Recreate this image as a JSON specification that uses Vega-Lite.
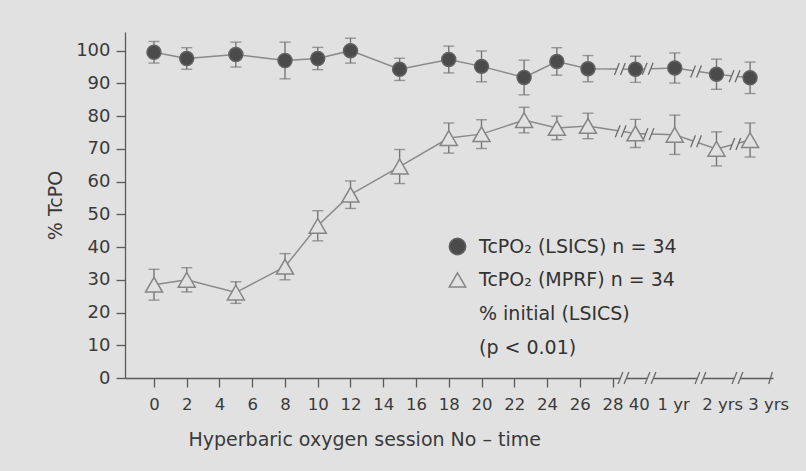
{
  "$schema": "https://vega.github.io/schema/vega-lite/v6.json",
  "width": 648,
  "height": 346,
  "autosize": {"type": "none"},
  "padding": {"left": 125, "top": 32, "right": 33, "bottom": 93},
  "background": "#e1e1e1",
  "config": {
    "view": {"stroke": null},
    "font": "DejaVu Sans",
    "axis": {
      "domainColor": "#5a5a5a",
      "tickColor": "#5a5a5a",
      "domainWidth": 1.3,
      "tickWidth": 1.3,
      "labelColor": "#3a3a3a",
      "titleColor": "#3a3a3a",
      "labelFont": "DejaVu Sans",
      "titleFont": "DejaVu Sans",
      "titleFontSize": 19,
      "titleFontWeight": "normal",
      "grid": false
    }
  },
  "datasets": {
    "series": [
      {"series": "LSICS", "session": "0", "x": 0, "v": 99.5, "e": 3.3},
      {"series": "LSICS", "session": "2", "x": 2, "v": 97.6, "e": 3.3},
      {"series": "LSICS", "session": "5", "x": 5, "v": 98.8, "e": 3.8},
      {"series": "LSICS", "session": "8", "x": 8, "v": 97.0, "e": 5.6},
      {"series": "LSICS", "session": "10", "x": 10, "v": 97.6, "e": 3.4},
      {"series": "LSICS", "session": "12", "x": 12, "v": 100.0, "e": 3.8},
      {"series": "LSICS", "session": "15", "x": 15, "v": 94.3, "e": 3.4},
      {"series": "LSICS", "session": "18", "x": 18, "v": 97.3, "e": 4.1},
      {"series": "LSICS", "session": "20", "x": 20, "v": 95.2, "e": 4.7},
      {"series": "LSICS", "session": "23", "x": 22.6, "v": 91.8, "e": 5.3},
      {"series": "LSICS", "session": "25", "x": 24.6, "v": 96.7, "e": 4.2},
      {"series": "LSICS", "session": "27", "x": 26.5, "v": 94.5, "e": 4.0},
      {"series": "LSICS", "session": "40", "x": 29.4, "v": 94.3, "e": 4.0},
      {"series": "LSICS", "session": "1 yr", "x": 31.8, "v": 94.7, "e": 4.6},
      {"series": "LSICS", "session": "2 yrs", "x": 34.35, "v": 92.8, "e": 4.6},
      {"series": "LSICS", "session": "3 yrs", "x": 36.4, "v": 91.7, "e": 4.8},
      {"series": "MPRF", "session": "0", "x": 0, "v": 28.5, "e": 4.7},
      {"series": "MPRF", "session": "2", "x": 2, "v": 30.0, "e": 3.7},
      {"series": "MPRF", "session": "5", "x": 5, "v": 26.1, "e": 3.3},
      {"series": "MPRF", "session": "8", "x": 8, "v": 34.0, "e": 4.0},
      {"series": "MPRF", "session": "10", "x": 10, "v": 46.5, "e": 4.6},
      {"series": "MPRF", "session": "12", "x": 12, "v": 56.0, "e": 4.2},
      {"series": "MPRF", "session": "15", "x": 15, "v": 64.6, "e": 5.2},
      {"series": "MPRF", "session": "18", "x": 18, "v": 73.3, "e": 4.6},
      {"series": "MPRF", "session": "20", "x": 20, "v": 74.5, "e": 4.4},
      {"series": "MPRF", "session": "23", "x": 22.6, "v": 78.8, "e": 3.9},
      {"series": "MPRF", "session": "25", "x": 24.6, "v": 76.4, "e": 3.6},
      {"series": "MPRF", "session": "27", "x": 26.5, "v": 77.0, "e": 3.9},
      {"series": "MPRF", "session": "40", "x": 29.4, "v": 74.7, "e": 4.3},
      {"series": "MPRF", "session": "1 yr", "x": 31.8, "v": 74.3, "e": 6.0},
      {"series": "MPRF", "session": "2 yrs", "x": 34.35, "v": 70.0, "e": 5.2},
      {"series": "MPRF", "session": "3 yrs", "x": 36.4, "v": 72.7, "e": 5.2}
    ],
    "breaks": [
      {"kind": "double", "x": 28.45, "v": 94.4},
      {"kind": "double", "x": 30.15, "v": 94.5},
      {"kind": "double", "x": 33.1, "v": 93.6},
      {"kind": "double", "x": 35.45, "v": 92.2},
      {"kind": "double", "x": 28.5, "v": 75.4},
      {"kind": "double", "x": 30.2, "v": 74.5},
      {"kind": "double", "x": 33.1, "v": 72.3},
      {"kind": "double", "x": 35.5, "v": 71.5},
      {"kind": "double", "x": 28.67, "v": 0},
      {"kind": "double", "x": 30.32, "v": 0},
      {"kind": "double", "x": 33.37, "v": 0},
      {"kind": "double", "x": 35.63, "v": 0},
      {"kind": "single", "x": 37.65, "v": 0}
    ]
  },
  "encoding": {
    "x": {
      "field": "x",
      "type": "quantitative",
      "scale": {"domain": [-1.77, 37.8], "nice": false, "zero": false},
      "axis": {
        "title": "Hyperbaric oxygen session No – time",
        "values": [0, 2, 4, 6, 8, 10, 12, 14, 16, 18, 20, 22, 24, 26, 28, 29.6, 31.7, 34.7, 37.5],
        "labelExpr": "datum.value > 37 ? '3 yrs' : datum.value > 34 ? '2 yrs' : datum.value > 31 ? '1 yr' : datum.value > 29 ? '40' : datum.label",
        "labelFontSize": 16.5,
        "tickSize": 9,
        "tickOpacity": {"condition": {"test": "datum.value > 28.5", "value": 0}, "value": 1},
        "labelPadding": 9,
        "labelFlush": false,
        "labelOverlap": false,
        "titleAnchor": "start",
        "titleAlign": "left",
        "titleBaseline": "alphabetic",
        "titleX": 63,
        "titleY": 67
      }
    },
    "y": {
      "field": "v",
      "type": "quantitative",
      "scale": {"domain": [0, 105.7], "nice": false},
      "axis": {
        "title": "% TcPO",
        "values": [0, 10, 20, 30, 40, 50, 60, 70, 80, 90, 100],
        "labelFontSize": 18,
        "tickSize": 9,
        "labelPadding": 6,
        "titlePadding": 10
      }
    }
  },
  "layer": [
    {
      "data": {"name": "series"},
      "mark": {"type": "line", "color": "#8a8a8a", "strokeWidth": 1.5},
      "encoding": {"detail": {"field": "series"}}
    },
    {
      "data": {"name": "series"},
      "mark": {"type": "errorbar", "color": "#767676", "thickness": 1.4, "ticks": {"size": 11, "thickness": 1.4}},
      "encoding": {"yError": {"field": "e"}, "detail": {"field": "series"}}
    },
    {
      "data": {"name": "breaks"},
      "transform": [{"filter": "datum.kind == 'double'"}],
      "mark": {"type": "point", "shape": "M-0.9,1L-0.1,-1L0.9,-1L0.1,1Z", "size": 144, "filled": true, "fill": "#e1e1e1", "strokeWidth": 0, "opacity": 1}
    },
    {
      "data": {"name": "breaks"},
      "transform": [{"filter": "datum.kind == 'double'"}],
      "mark": {"type": "point", "shape": "M-0.9,1L-0.1,-1M0.1,1L0.9,-1", "size": 144, "filled": false, "stroke": "#6a6a6a", "strokeWidth": 1.3, "opacity": 1}
    },
    {
      "data": {"name": "breaks"},
      "transform": [{"filter": "datum.kind == 'single'"}],
      "mark": {"type": "point", "shape": "M-0.3,1L0.3,-1", "size": 144, "filled": false, "stroke": "#6a6a6a", "strokeWidth": 1.3, "opacity": 1}
    },
    {
      "data": {"name": "series"},
      "transform": [{"filter": "datum.series == 'LSICS'"}],
      "mark": {"type": "point", "filled": true, "size": 195, "strokeWidth": 1.5, "opacity": 1},
      "encoding": {
        "shape": {
          "field": "series", "type": "nominal",
          "scale": {"domain": ["LSICS", "MPRF", "n1", "n2"], "range": ["circle", "triangle-up", "circle", "circle"]},
          "legend": {
            "title": null,
            "orient": "none",
            "legendX": 323,
            "legendY": 205,
            "direction": "vertical",
            "symbolSize": 270,
            "symbolStrokeWidth": 1.5,
            "rowPadding": 11.5,
            "labelFont": "DejaVu Sans",
            "labelFontSize": 19,
            "labelLimit": 500,
            "labelColor": "#333333",
            "labelOffset": 12,
            "labelExpr": "datum.value == 'LSICS' ? 'TcPO₂ (LSICS) n = 34' : datum.value == 'MPRF' ? 'TcPO₂ (MPRF) n = 34' : datum.value == 'n1' ? '% initial (LSICS)' : '(p < 0.01)'"
          }
        },
        "fill": {
          "field": "series", "type": "nominal",
          "scale": {"domain": ["LSICS", "MPRF", "n1", "n2"], "range": ["#4b4b4b", "#e1e1e1", "transparent", "transparent"]}
        },
        "stroke": {
          "field": "series", "type": "nominal",
          "scale": {"domain": ["LSICS", "MPRF", "n1", "n2"], "range": ["#626262", "#858585", "transparent", "transparent"]}
        }
      }
    },
    {
      "data": {"name": "series"},
      "transform": [{"filter": "datum.series == 'MPRF'"}],
      "mark": {"type": "point", "filled": true, "size": 290, "strokeWidth": 1.5, "opacity": 1},
      "encoding": {
        "shape": {"field": "series", "type": "nominal"},
        "fill": {"field": "series", "type": "nominal"},
        "stroke": {"field": "series", "type": "nominal"}
      }
    }
  ]
}
